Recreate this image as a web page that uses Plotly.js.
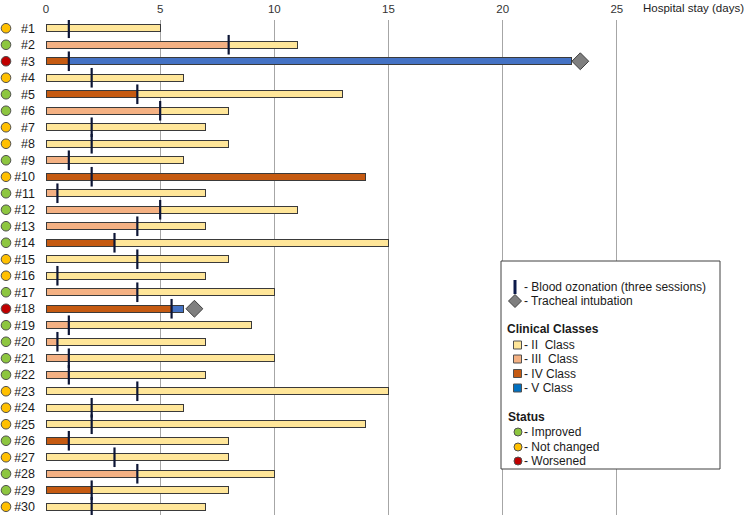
<!DOCTYPE html>
<html><head><meta charset="utf-8">
<script src="https://cdn.plot.ly/plotly-3.0.1.min.js"></script>
<style>html,body{margin:0;padding:0;background:#fff}</style>
</head><body><div id="chart" style="width:749px;height:520px"></div>
<script>
// ---- data ----
const patients = ['#1','#2','#3','#4','#5','#6','#7','#8','#9','#10','#11','#12','#13','#14','#15','#16','#17','#18','#19','#20','#21','#22','#23','#24','#25','#26','#27','#28','#29','#30'];
const status = ['Not changed','Improved','Worsened','Not changed','Improved','Improved','Not changed','Not changed','Improved','Not changed','Improved','Improved','Improved','Improved','Not changed','Not changed','Improved','Worsened','Improved','Improved','Improved','Improved','Not changed','Not changed','Not changed','Improved','Not changed','Improved','Improved','Not changed'];
// days spent in each clinical class (stack order: III, IV, V, then II)
const classIIIDays = [null,8,null,null,null,5,null,null,1,null,0.5,5,4,null,null,null,4,null,1,0.5,1,1,null,null,null,null,null,4,null,null];
const classIVDays  = [null,null,1,null,4,null,null,null,null,14,null,null,null,3,null,null,null,5.5,null,null,null,null,null,null,null,1,null,null,2,null];
const classVDays   = [null,null,22,null,null,null,null,null,null,null,null,null,null,null,null,null,null,0.5,null,null,null,null,null,null,null,null,null,null,null,null];
const classIIDays  = [5,3,null,6,9,3,7,8,5,null,6.5,6,3,12,8,7,6,null,8,6.5,9,6,15,6,14,7,8,6,6,7];
const ozonationDay = [1,8,1,2,4,5,2,2,1,2,0.5,5,4,3,4,0.5,4,5.5,1,0.5,1,1,4,2,2,1,3,4,2,2];
const intubationPatients = ['#3','#18'];
const intubationDay = [23.4,6.5];
const xTicks = [0,5,10,15,20,25];

// ---- styles ----
const FONT = 'Liberation Sans, Arial, sans-serif';
const classColors = {II:'#FFE699', III:'#F4B183', IV:'#C55A11', V:'#4472C4'};
const statusColors = {'Improved':'#8DC63F','Not changed':'#FFC000','Worsened':'#C00000'};
const BORDER = '#3a3a3a';
const OZ = '#0c1535';

function barTrace(name, vals, color){
  return {type:'bar', orientation:'h', name:name, y:patients, x:vals, width:0.45,
    marker:{color:color, line:{color:BORDER, width:1}}, hoverinfo:'skip', showlegend:false};
}
const data = [
  barTrace('III', classIIIDays, classColors.III),
  barTrace('IV', classIVDays, classColors.IV),
  barTrace('V', classVDays, classColors.V),
  barTrace('II', classIIDays, classColors.II),
  {type:'scatter', mode:'markers', y:patients, x:ozonationDay, showlegend:false, hoverinfo:'skip',
   marker:{symbol:'line-ns', size:14, line:{color:OZ, width:2.2}}},
  {type:'scatter', mode:'markers', y:intubationPatients, x:intubationDay, showlegend:false, hoverinfo:'skip',
   marker:{symbol:'diamond', size:13, color:'#7F7F7F', line:{color:'#404040', width:1}}}
];

// ---- pixel helpers ----
const L=46, R=18, T=20, B=5, Wd=749, Ht=520;
const PW = Wd-L-R, PH = Ht-T-B;
const px = x => (x-L)/PW;
const py = y => 1-(y-T)/PH;
const shapes = [];
const annotations = [];

// status circles beside each patient label
patients.forEach((p,i)=>{
  shapes.push({type:'circle', xref:'paper', yref:'y', xsizemode:'pixel', ysizemode:'pixel',
    xanchor:px(6), yanchor:p, x0:-4.8, x1:4.8, y0:-4.8, y1:4.8,
    fillcolor:statusColors[status[i]], line:{color:'#505050', width:1}, layer:'above'});
});

// legend box
shapes.push({type:'rect', xref:'paper', yref:'paper', x0:px(501), x1:px(720), y0:py(261), y1:py(469),
  line:{color:'#404040', width:1}, fillcolor:'#ffffff', layer:'above'});
shapes.push({type:'rect', xref:'paper', yref:'paper', x0:px(513.5), x1:px(516.5), y0:py(280), y1:py(294),
  line:{width:0}, fillcolor:'#0c1a4a', layer:'above'});
const dc=[515,301], dr=6.5;
shapes.push({type:'path', xref:'paper', yref:'paper', layer:'above',
  path:`M${px(dc[0]-dr)},${py(dc[1])} L${px(dc[0])},${py(dc[1]-dr)} L${px(dc[0]+dr)},${py(dc[1])} L${px(dc[0])},${py(dc[1]+dr)} Z`,
  fillcolor:'#7F7F7F', line:{color:'#404040', width:1}});
const sq = [['- II  Class', classColors.II, 345],['- III  Class', classColors.III, 359],['- IV Class', classColors.IV, 373.5],['- V Class','#0070C0',388]];
sq.forEach(([t,c,y])=>{
  shapes.push({type:'rect', xref:'paper', yref:'paper', layer:'above', x0:px(513.5), x1:px(521.5), y0:py(y-4), y1:py(y+4),
    fillcolor:c, line:{color:'#505050', width:1}});
  annotations.push({text:t, x:px(522), y:py(y)});
});
const st = [['- Improved','Improved',432],['- Not changed','Not changed',447],['- Worsened','Worsened',461]];
st.forEach(([t,k,y])=>{
  shapes.push({type:'circle', xref:'paper', yref:'paper', layer:'above', x0:px(514), x1:px(522), y0:py(y-4), y1:py(y+4),
    fillcolor:statusColors[k], line:{color:'#505050', width:1}});
  annotations.push({text:t, x:px(522), y:py(y)});
});
annotations.push({text:'- Blood ozonation (three sessions)', x:px(522), y:py(287)});
annotations.push({text:'- Tracheal intubation', x:px(522), y:py(301)});
annotations.push({text:'<b>Clinical Classes</b>', x:px(505), y:py(329)});
annotations.push({text:'<b>Status</b>', x:px(506), y:py(417)});
annotations.forEach(a=>{a.xref='paper'; a.yref='paper'; a.xanchor='left'; a.yanchor='middle'; a.showarrow=false;
  a.font={family:FONT, size:12, color:'#1a1a1a'};});
annotations.push({text:'Hospital stay (days)', xref:'paper', yref:'paper', x:px(641), y:py(8), xanchor:'left', yanchor:'middle',
  showarrow:false, font:{family:FONT, size:11.5, color:'#222'}});

const layout = {
  width:749, height:520, margin:{l:L, r:R, t:T, b:B},
  paper_bgcolor:'#fff', plot_bgcolor:'#fff', barmode:'stack', showlegend:false,
  font:{family:FONT},
  xaxis:{side:'top', range:[0,30], tickvals:xTicks, ticktext:xTicks.map(String), showgrid:true, gridcolor:'#a6a6a6', gridwidth:1,
    zeroline:false, showline:false, ticks:'', ticklabelstandoff:4, tickfont:{family:FONT, size:11.5, color:'#333'}, fixedrange:true},
  yaxis:{type:'category', autorange:false, range:[29.5,-0.5], showgrid:false, zeroline:false, showline:false, ticks:'',
    ticklabelstandoff:10, tickfont:{family:FONT, size:12.5, color:'#1a1a1a'}, fixedrange:true},
  shapes:shapes, annotations:annotations
};
Plotly.newPlot('chart', data, layout, {staticPlot:true, displayModeBar:false});
</script>
</body></html>
